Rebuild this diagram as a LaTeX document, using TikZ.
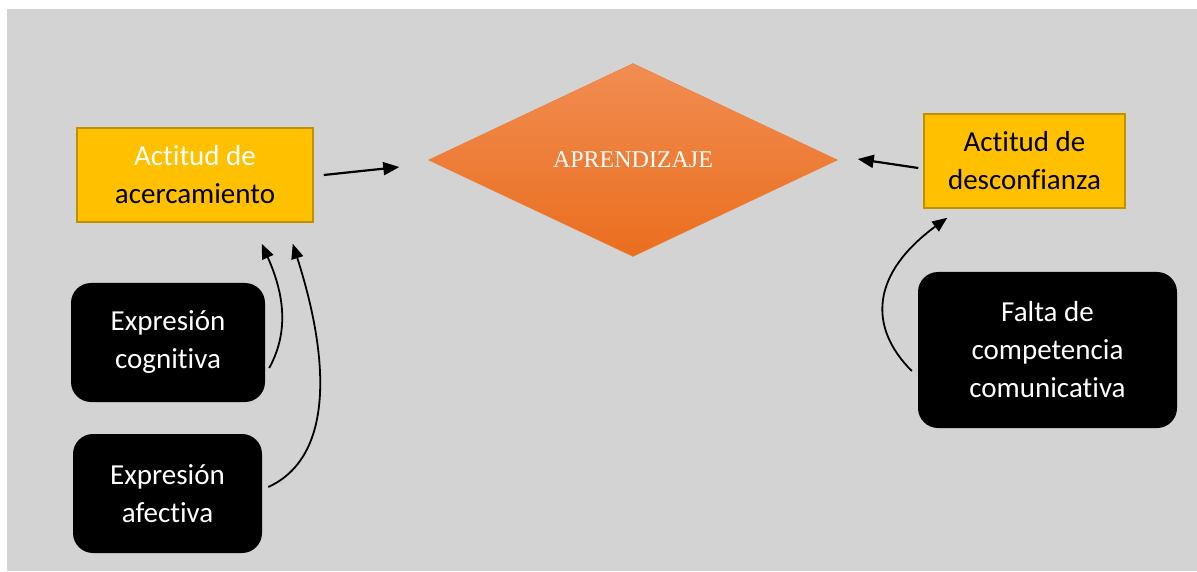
\documentclass[tikz,border=0pt]{standalone}
\usepackage{fontspec}
\setmainfont{Carlito}[Ligatures={NoCommon}, RawFeature={-liga;-clig;-calt;-dlig}]
\newfontfamily\romanfont{Liberation Serif}
\usepackage{xcolor}
\usetikzlibrary{calc, shapes.geometric, arrows.meta}

\definecolor{fondo}{RGB}{211,211,211}
\definecolor{oro}{RGB}{255,192,0}
\definecolor{oroborde}{RGB}{191,144,0}
\definecolor{naranjaalto}{RGB}{241,141,82}
\definecolor{naranjabajo}{RGB}{234,110,30}
\definecolor{naranjaborde}{RGB}{237,125,49}

\begin{document}
\begin{tikzpicture}[x=1pt, y=1pt,
		actitud/.style={draw=oroborde, line width=1.5pt, fill=oro, inner sep=0pt, align=center, font=\fontsize{29}{38}\selectfont},
		factor/.style={fill=black, rounded corners=20pt, text=white, inner sep=0pt, align=center, font=\fontsize{29}{38}\selectfont},
		flecha/.style={line width=2.2pt, -{Triangle[length=16pt, width=13pt]}},
		curva/.style={line width=1.8pt, -{Triangle[length=15pt, width=12pt]}}]
		%definition of page and background
		\useasboundingbox (0,0) rectangle (1197,571);
		\fill [fondo] (7,0) rectangle (1197,562);
		
		%centre of the picture
		\node [diamond, draw=naranjaborde, top color=naranjaalto, bottom color=naranjabajo, aspect=2.1, minimum width=409pt, minimum height=193pt, inner sep=0pt, text=white, font=\romanfont\fontsize{24}{28}\selectfont] (apr) at (633,411) {APRENDIZAJE};
		
		%attitudes
		\node [actitud, text=white, minimum width=236pt, minimum height=94pt] (acerc) at (195,396) {Actitud de\\\textcolor{black}{acercamiento}};
		\node [actitud, text=black, minimum width=201pt, minimum height=94pt] (desc) at (1024.5,410) {Actitud de\\desconfianza};
		
		%factors
		\node [factor, minimum width=194pt, minimum height=119pt] (cog) at (168,228.5) {Expresión\\cognitiva};
		\node [factor, minimum width=189pt, minimum height=119pt] (afec) at (167.5,77.5) {Expresión\\afectiva};
		\node [factor, minimum width=259pt, minimum height=156pt] (falta) at (1047.5,221) {Falta de\\competencia\\comunicativa};
		
		%arrows to the diamond
		\draw [flecha] ($(acerc.east)+(10,0)$) -- ($(apr.west)+(-29,-7)$);
		\draw [flecha] ($(desc.west)+(-5,-7)$) -- ($(apr.east)+(20,1)$);
		
		%curved arrows
		\draw [curva] ($(cog.east)+(4,-25.5)$) .. controls +(22,40) and +(20,-45) .. ($(acerc.south east)+(-52,-21)$);
		\draw [curva] ($(afec.east)+(6,6.5)$) .. controls +(62,28) and +(40,-125) .. ($(acerc.south east)+(-21,-21)$);
		\draw [curva] ($(falta.west)+(-6,-21)$) .. controls +(-45,45) and +(-75,-55) .. ($(desc.south west)+(24,-9)$);
	\end{tikzpicture}
\end{document}
